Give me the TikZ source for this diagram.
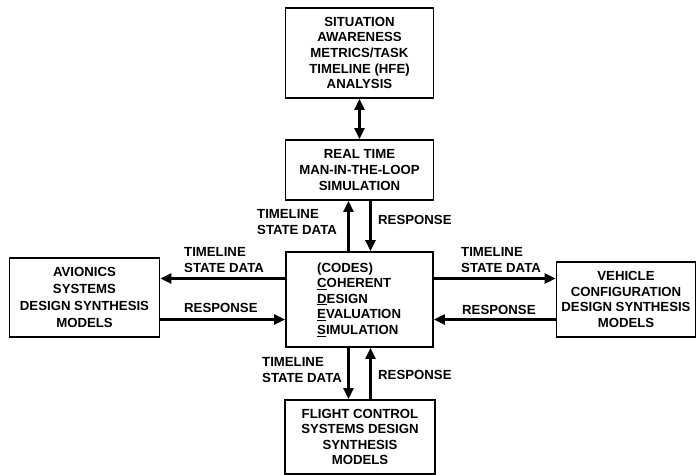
\documentclass[tikz,border=0pt]{standalone}
\usepackage{fontspec}
\setmainfont{Liberation Sans}
\usetikzlibrary{arrows.meta,calc}
\begin{document}
\begin{tikzpicture}[x=1pt,y=-1pt,
  every node/.style={font=\fontsize{13.2}{15.6}\selectfont\bfseries},
  box/.style={draw,line width=1.8pt,inner sep=0pt,align=center},
  lbl/.style={inner sep=0pt,align=left},
  flow/.style={line width=2.2pt,-{Triangle[length=11pt,width=10pt]}},
  both/.style={line width=2.2pt,{Triangle[length=11pt,width=10pt]}-{Triangle[length=11pt,width=10pt]}}]
\useasboundingbox (0,0) rectangle (696,474);

% blocks
\node[box,minimum width=148pt,minimum height=90pt] (sa) at (359.5,53)
  {SITUATION\\AWARENESS\\METRICS/TASK\\TIMELINE (HFE)\\ANALYSIS};
\node[box,minimum width=148pt,minimum height=60pt] (rt) at (359.5,170)
  {REAL TIME\\MAN-IN-THE-LOOP\\SIMULATION};
\node[box,minimum width=147pt,minimum height=95pt] (codes) at (359.5,299.5) {};
\node[lbl,anchor=west] (codestext) at (317,299.5)
  {(CODES)\\\underline{C}OHERENT\\\underline{D}ESIGN\\\underline{E}VALUATION\\\underline{S}IMULATION};
\node[box,minimum width=150pt,minimum height=79pt,font=\fontsize{13.2}{16.8}\selectfont\bfseries] (av) at (84.5,297.5)
  {AVIONICS\\SYSTEMS\\DESIGN SYNTHESIS\\MODELS};
\node[box,minimum width=139pt,minimum height=75pt] (veh) at (626,299.5)
  {VEHICLE\\CONFIGURATION\\DESIGN SYNTHESIS\\MODELS};
\node[box,minimum width=150pt,minimum height=74pt] (fc) at (360,437)
  {FLIGHT CONTROL\\SYSTEMS DESIGN\\SYNTHESIS\\MODELS};

% connectors (canvas shifts point up, so +yshift is the upper lane)
\draw[both] (sa.south) -- (rt.north);
\draw[flow] ([xshift=-11pt]codes.north) -- ([xshift=-11pt]rt.south);
\draw[flow] ([xshift=11pt]rt.south) -- ([xshift=11pt]codes.north);
\draw[flow] ([yshift=21pt]codes.west) coordinate (cw1) -- (cw1 -| av.east);
\draw[flow] ([yshift=-20pt]codes.west -| av.east) coordinate (aw2) -- (aw2 -| codes.west);
\draw[flow] ([yshift=21pt]codes.east) coordinate (ce1) -- (ce1 -| veh.west);
\draw[flow] ([yshift=-20pt]codes.east -| veh.west) coordinate (ve2) -- (ve2 -| codes.east);
\draw[flow] ([xshift=-11pt]codes.south) -- ([xshift=-11pt]codes.south |- fc.north);
\draw[flow] ([xshift=11pt]codes.south |- fc.north) -- ([xshift=11pt]codes.south);

% connector labels
\node[lbl,anchor=west] (l1) at (257,222) {TIMELINE\\STATE DATA};
\node[lbl,anchor=west] (l2) at (378,220) {RESPONSE};
\node[lbl,anchor=west] (l3) at (184,260) {TIMELINE\\STATE DATA};
\node[lbl,anchor=west] (l4) at (184,308) {RESPONSE};
\node[lbl,anchor=west] (l5) at (461,260) {TIMELINE\\STATE DATA};
\node[lbl,anchor=west] (l6) at (462,310) {RESPONSE};
\node[lbl,anchor=west] (l7) at (262,370) {TIMELINE\\STATE DATA};
\node[lbl,anchor=west] (l8) at (378,375) {RESPONSE};
\end{tikzpicture}
\end{document}
